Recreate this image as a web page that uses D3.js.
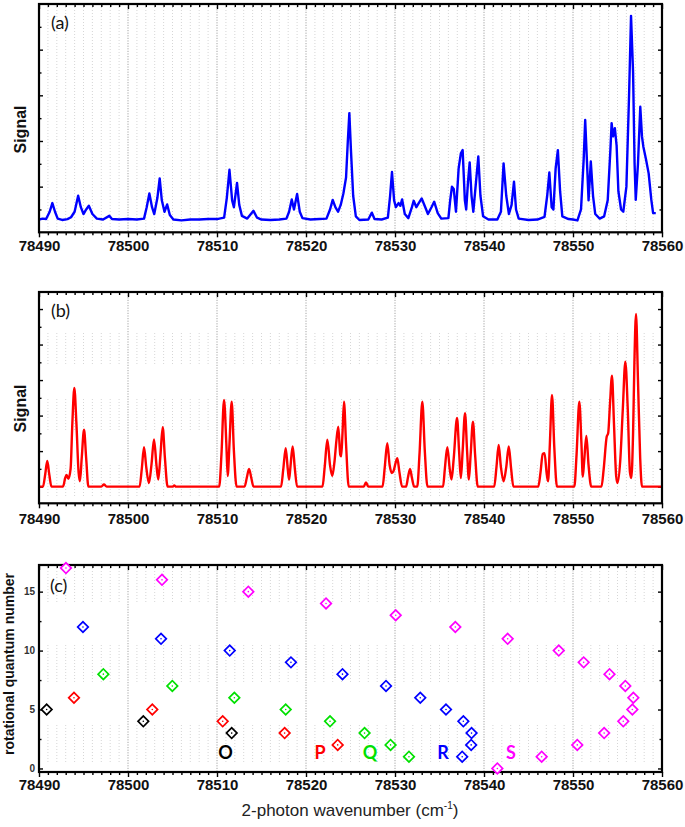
<!DOCTYPE html>
<html><head><meta charset="utf-8">
<script src="https://cdn.jsdelivr.net/npm/d3@7"></script>
<style>body{margin:0;background:#fff}svg{display:block}</style>
</head><body>
<script>
// ---------- DATA ----------
const xTicks = [78490,78500,78510,78520,78530,78540,78550,78560];
const xDomain = [78490, 78560];

// Panel (a): measured spectrum [wavenumber, signal]
const spectrumA = [
[78490.0,0.28],[78490.4,0.30],[78490.8,0.29],[78491.2,0.45],[78491.5,0.64],[78491.8,0.45],[78492.1,0.30],[78492.6,0.27],
[78493.2,0.29],[78493.6,0.33],[78494.0,0.45],[78494.4,0.80],[78494.7,0.55],[78495.0,0.40],[78495.3,0.50],[78495.6,0.58],
[78496.0,0.40],[78496.5,0.30],[78497.2,0.28],[78497.9,0.36],[78498.2,0.29],[78499.0,0.28],[78500.0,0.29],[78501.0,0.28],
[78501.8,0.30],[78502.1,0.55],[78502.4,0.85],[78502.7,0.55],[78502.95,0.40],[78503.3,0.75],[78503.56,1.18],[78503.8,0.70],
[78504.1,0.45],[78504.4,0.61],[78504.7,0.38],[78505.1,0.28],[78506.0,0.26],[78507.0,0.28],[78508.0,0.28],[78509.0,0.29],
[78510.0,0.29],[78510.8,0.32],[78511.1,0.75],[78511.4,1.37],[78511.7,0.70],[78511.9,0.55],[78512.25,1.08],[78512.5,0.60],
[78512.8,0.36],[78513.4,0.30],[78514.1,0.47],[78514.5,0.32],[78515.0,0.28],[78516.0,0.27],[78517.0,0.28],[78517.8,0.30],
[78518.1,0.45],[78518.4,0.72],[78518.65,0.50],[78519.0,0.84],[78519.3,0.45],[78519.6,0.31],[78520.5,0.28],[78521.5,0.29],
[78522.3,0.30],[78522.7,0.50],[78523.0,0.71],[78523.3,0.55],[78523.6,0.45],[78523.9,0.60],[78524.2,0.85],[78524.5,1.20],
[78524.7,2.00],[78524.87,2.61],[78525.05,1.80],[78525.3,0.80],[78525.6,0.35],[78526.0,0.27],[78527.0,0.28],[78527.4,0.43],
[78527.7,0.29],[78528.5,0.28],[78529.2,0.32],[78529.45,0.80],[78529.66,1.32],[78529.9,0.70],[78530.1,0.55],[78530.4,0.64],
[78530.6,0.58],[78530.8,0.72],[78531.1,0.40],[78531.5,0.31],[78531.9,0.55],[78532.1,0.69],[78532.4,0.55],[78532.7,0.65],
[78533.0,0.74],[78533.4,0.55],[78533.7,0.40],[78534.1,0.55],[78534.4,0.67],[78534.8,0.42],[78535.2,0.30],[78536.0,0.31],
[78536.2,0.70],[78536.4,1.00],[78536.6,0.95],[78536.85,0.45],[78537.15,1.40],[78537.4,1.73],[78537.6,1.80],[78537.85,0.70],
[78538.0,0.50],[78538.2,1.10],[78538.39,1.53],[78538.6,0.80],[78538.8,0.45],[78539.1,1.10],[78539.36,1.66],[78539.6,0.80],
[78539.9,0.35],[78540.5,0.28],[78541.5,0.28],[78541.9,0.45],[78542.2,1.51],[78542.5,0.80],[78542.8,0.40],[78543.1,0.60],
[78543.37,1.11],[78543.6,0.50],[78543.9,0.30],[78545.0,0.27],[78546.0,0.28],[78546.8,0.34],[78547.1,0.80],[78547.34,1.31],
[78547.6,0.55],[78547.8,0.50],[78548.05,1.40],[78548.3,1.80],[78548.55,0.90],[78548.8,0.35],[78549.5,0.29],[78550.0,0.28],
[78550.5,0.26],[78550.9,0.50],[78551.2,1.60],[78551.37,2.46],[78551.6,1.40],[78551.75,0.70],[78552.0,1.55],[78552.25,0.80],
[78552.5,0.40],[78553.0,0.30],[78553.5,0.35],[78553.9,0.70],[78554.2,1.80],[78554.34,2.39],[78554.5,2.10],[78554.7,2.28],
[78554.9,1.90],[78555.1,0.90],[78555.4,0.50],[78555.65,0.45],[78556.0,1.00],[78556.3,3.00],[78556.52,4.74],[78556.75,3.50],
[78556.92,1.50],[78557.05,0.71],[78557.3,1.50],[78557.56,2.75],[78557.75,2.10],[78557.9,1.88],[78558.2,1.60],[78558.5,1.29],
[78558.8,0.71],[78559.0,0.42],[78559.3,0.42]
];

// Panel (b): simulated spectrum [wavenumber, signal]
const spectrumB = [
[78490.0,0],[78490.45,0],[78490.7,0.35],[78490.93,0.72],[78491.15,0.35],[78491.4,0],
[78492.7,0],[78492.95,0.25],[78493.1,0.33],[78493.3,0.22],[78493.55,0.5],[78493.75,1.8],[78493.97,2.78],[78494.2,1.8],[78494.45,0.4],[78494.6,0.15],[78494.8,0.8],[78495.06,1.6],[78495.3,0.8],[78495.55,0],
[78497.0,0],[78497.3,0.06],[78497.6,0],
[78501.3,0],[78501.55,0.5],[78501.8,1.11],[78502.05,0.55],[78502.35,0.1],[78502.65,0.65],[78502.92,1.33],[78503.2,0.6],[78503.4,0.2],[78503.65,0.9],[78503.9,1.67],[78504.15,0.8],[78504.45,0],
[78505.0,0],[78505.2,0.03],[78505.4,0],
[78510.25,0],[78510.5,0.9],[78510.79,2.44],[78511.05,1.2],[78511.2,0.3],[78511.4,1.2],[78511.65,2.39],[78511.9,1.0],[78512.2,0],
[78513.1,0],[78513.35,0.25],[78513.6,0.5],[78513.85,0.25],[78514.1,0],
[78517.2,0],[78517.45,0.5],[78517.72,1.08],[78517.95,0.5],[78518.1,0.2],[78518.25,0.55],[78518.5,1.13],[78518.75,0.5],[78519.0,0],
[78521.85,0],[78522.1,0.55],[78522.4,1.32],[78522.7,0.6],[78522.95,0.3],[78523.2,0.7],[78523.42,1.3],[78523.63,1.69],[78523.85,0.9],[78523.95,0.85],[78524.1,1.5],[78524.27,2.39],[78524.5,1.2],[78524.8,0],
[78526.5,0],[78526.74,0.12],[78527.0,0],
[78528.6,0],[78528.85,0.55],[78529.13,1.22],[78529.4,0.6],[78529.65,0.38],[78529.85,0.45],[78530.05,0.65],[78530.26,0.80],[78530.5,0.4],[78530.8,0],
[78531.25,0],[78531.45,0.25],[78531.69,0.5],[78531.9,0.25],[78532.15,0],
[78532.5,0],[78532.75,0.9],[78533.07,2.39],[78533.35,1.0],[78533.65,0],
[78535.4,0],[78535.6,0.5],[78535.88,1.11],[78536.15,0.5],[78536.35,0.2],[78536.6,0.8],[78536.97,1.93],[78537.2,1.0],[78537.4,0.24],[78537.6,1.0],[78537.87,2.07],[78538.1,1.0],[78538.3,0.2],[78538.5,0.9],[78538.76,1.83],[78539.0,0.9],[78539.3,0],
[78541.15,0],[78541.4,0.55],[78541.65,1.17],[78541.9,0.55],[78542.2,0.15],[78542.5,0.55],[78542.78,1.13],[78543.05,0.5],[78543.3,0],
[78546.1,0],[78546.35,0.4],[78546.6,0.92],[78546.8,0.94],[78547.05,0.35],[78547.2,0.15],[78547.4,1.2],[78547.64,2.58],[78547.9,1.1],[78548.2,0],
[78550.15,0],[78550.4,0.9],[78550.71,2.39],[78550.95,1.2],[78551.1,0.28],[78551.25,0.7],[78551.5,1.43],[78551.75,0.6],[78552.05,0],
[78553.2,0],[78553.45,0.5],[78553.79,1.41],[78553.95,1.5],[78554.15,2.3],[78554.38,3.12],[78554.6,1.8],[78554.85,0.3],[78555.0,0.1],[78555.3,0.7],[78555.6,2.2],[78555.88,3.52],[78556.15,2.2],[78556.4,0.4],[78556.55,0.24],[78556.75,1.5],[78556.9,3.5],[78557.08,4.86],[78557.3,3.0],[78557.55,0.8],[78557.75,0],
[78560.0,0]
];

// Panel (c): line assignments (wavenumber, rotational quantum number J)
const oWavenumber = [78490.86, 78501.72, 78511.65];
const oJ          = [5, 4, 3];
const pWavenumber = [78493.93, 78502.73, 78510.64, 78517.6, 78523.56];
const pJ          = [6, 5, 4, 3, 2];
const qWavenumber = [78497.23, 78504.98, 78511.95, 78517.72, 78522.7, 78526.58, 78529.5, 78531.57];
const qJ          = [8, 7, 6, 5, 4, 3, 2, 1];
const rWavenumber = [78494.94, 78503.71, 78511.43, 78518.31, 78524.1, 78528.99, 78532.84, 78535.73, 78537.68, 78538.6, 78538.56, 78537.55];
const rJ          = [12, 11, 10, 9, 8, 7, 6, 5, 4, 3, 2, 1];
const sWavenumber = [78493.03, 78503.82, 78513.52, 78522.25, 78530.08, 78536.78, 78542.66, 78548.4, 78551.2, 78554.1, 78555.88, 78556.78, 78556.67, 78555.65, 78553.5, 78550.48, 78546.48, 78541.5];
const sJ          = [17, 16, 15, 14, 13, 12, 11, 10, 9, 8, 7, 6, 5, 4, 3, 2, 1, 0];
const branchNames = ["O", "P", "Q", "R", "S"];
const branchColors = ["#000000", "#ff0000", "#00e000", "#0000ff", "#ff00ff"];
const branchLabelWn = [78510.95, 78521.57, 78527.19, 78535.39, 78543.03];
const branchLabelJ  = [1.4, 1.4, 1.4, 1.4, 1.4];

// ---------- LAYOUT ----------
const W = 685, H = 827;
const L = 39, R = 662;
const svg = d3.select("body").append("svg").attr("width", W).attr("height", H)
  .style("font-family", "'Liberation Sans', Arial, sans-serif");

const x = d3.scaleLinear().domain(xDomain).range([L, R]);
const minorX = d3.range(78491, 78560).filter(v => v % 10 !== 0);
const majorInner = xTicks.filter(v => v !== 78490 && v !== 78560);

function panel(id, top, bottom, yDomain, yMajor, yMinor, gridBand, labelOffset, showYLabels) {
  const y = d3.scaleLinear().domain(yDomain).range([bottom, top]);
  const g = svg.append("g");
  svg.append("clipPath").attr("id", "clip" + id).append("rect")
    .attr("x", L).attr("y", top).attr("width", R - L).attr("height", bottom - top);
  const mg = g.append("g");
  mg.selectAll("line").data(minorX).join("line")
    .attr("x1", d => x(d)).attr("x2", d => x(d))
    .attr("y1", top + gridBand.start).attr("y2", bottom)
    .attr("stroke", "#cccccc").attr("stroke-width", 0.8)
    .attr("stroke-dasharray", gridBand.dash);
  g.append("g").selectAll("line").data(majorInner).join("line")
    .attr("x1", d => x(d)).attr("x2", d => x(d))
    .attr("y1", top).attr("y2", bottom)
    .attr("stroke", "#9a9a9a").attr("stroke-width", 0.9)
    .attr("stroke-dasharray", "1.2,1.4");
  const axB = g.append("g").attr("transform", `translate(0,${bottom})`)
    .call(d3.axisBottom(x).tickValues(xTicks).tickSize(5).tickPadding(labelOffset).tickFormat(d3.format("d")));
  axB.select(".domain").remove();
  axB.selectAll("text").attr("font-size", 15).attr("font-weight", "bold").attr("fill", "#111");
  const axBm = g.append("g").attr("transform", `translate(0,${bottom})`)
    .call(d3.axisBottom(x).tickValues(minorX).tickSize(3).tickFormat(""));
  axBm.select(".domain").remove();
  const axT = g.append("g").attr("transform", `translate(0,${top})`)
    .call(d3.axisTop(x).tickValues(xTicks).tickSize(-5).tickFormat(""));
  axT.select(".domain").remove();
  const axTm = g.append("g").attr("transform", `translate(0,${top})`)
    .call(d3.axisTop(x).tickValues(minorX).tickSize(-3).tickFormat(""));
  axTm.select(".domain").remove();
  const axL = g.append("g").attr("transform", `translate(${L},0)`)
    .call(d3.axisLeft(y).tickValues(yMajor).tickSize(-4).tickPadding(4).tickFormat(showYLabels ? d3.format("d") : ""));
  axL.select(".domain").remove();
  axL.selectAll("text").attr("font-size", 10).attr("font-weight", "bold").attr("fill", "#333");
  const axLm = g.append("g").attr("transform", `translate(${L},0)`)
    .call(d3.axisLeft(y).tickValues(yMinor).tickSize(-2.5).tickFormat(""));
  axLm.select(".domain").remove();
  const axR = g.append("g").attr("transform", `translate(${R},0)`)
    .call(d3.axisRight(y).tickValues(yMajor).tickSize(-4).tickFormat(""));
  axR.select(".domain").remove();
  const axRm = g.append("g").attr("transform", `translate(${R},0)`)
    .call(d3.axisRight(y).tickValues(yMinor).tickSize(-2.5).tickFormat(""));
  axRm.select(".domain").remove();
  g.selectAll(".tick line").attr("stroke", "#000").attr("stroke-width", 1.4);
  return {g, y, top, bottom};
}

function frame(p) {
  p.g.append("rect").attr("x", L).attr("y", p.top).attr("width", R - L).attr("height", p.bottom - p.top)
    .attr("fill", "none").attr("stroke", "#000").attr("stroke-width", 2.2);
}

// ----- Panel (a)
const pa = panel("a", 4, 232.3, [0, 5], [1, 2, 3, 4], [0.5, 1.5, 2.5, 3.5, 4.5],
  {start: 0, dash: "1,2"}, 3, false);
pa.g.append("path").datum(spectrumA)
  .attr("clip-path", "url(#clipa)")
  .attr("d", d3.line().x(d => x(d[0])).y(d => pa.y(d[1])))
  .attr("fill", "none").attr("stroke", "#0000ff").attr("stroke-width", 2.4)
  .attr("stroke-linejoin", "round");
frame(pa);

// ----- Panel (b)
const pb = panel("b", 292, 503.3, [-0.47, 5.48], [0, 1, 2, 3, 4, 5], [0.5, 1.5, 2.5, 3.5, 4.5],
  {start: 41, dash: "1,2,1,2,1,2,1,2,1,2,1,2,1,2,1,2,1,2,1,2,1,35"}, 5, false);
pb.g.append("path").datum(spectrumB)
  .attr("clip-path", "url(#clipb)")
  .attr("d", d3.line().x(d => x(d[0])).y(d => pb.y(d[1])).curve(d3.curveMonotoneX))
  .attr("fill", "none").attr("stroke", "#ff0000").attr("stroke-width", 2.4)
  .attr("stroke-linejoin", "round");
frame(pb);

// ----- Panel (c)
const pc = panel("c", 565, 772, [-0.3, 17.26], [0, 5, 10, 15], [2.5, 7.5, 12.5],
  {start: 0, dash: "1,2,1,2,1,2,1,2,1,2,1,2,1,2,1,2,1,2,1,2,1,2,1,2,1,43"}, 2, true);
frame(pc);
const branches = [
  {wn: oWavenumber, J: oJ}, {wn: pWavenumber, J: pJ}, {wn: qWavenumber, J: qJ},
  {wn: rWavenumber, J: rJ}, {wn: sWavenumber, J: sJ}
];
const diamond = d3.symbol().type(d3.symbolSquare).size(56)();
branches.forEach((b, i) => {
  const pts = b.wn.map((w, k) => [w, b.J[k]]);
  const gg = pc.g.append("g");
  const sel = gg.selectAll("g").data(pts).join("g")
    .attr("transform", d => `translate(${x(d[0])},${pc.y(d[1])})`);
  sel.append("path").attr("d", diamond).attr("transform", "rotate(45)")
    .attr("fill", "#fff").attr("stroke", branchColors[i]).attr("stroke-width", 1.7);
  sel.append("circle").attr("r", 0.8).attr("fill", branchColors[i]);
  pc.g.append("text")
    .attr("x", x(branchLabelWn[i])).attr("y", pc.y(branchLabelJ[i]))
    .attr("text-anchor", "middle").attr("dominant-baseline", "central")
    .attr("font-family", "Lato, 'Open Sans', sans-serif").attr("font-weight", "bold")
    .attr("font-size", 18).attr("fill", branchColors[i]).text(branchNames[i]);
});

// ----- Panel letters
[["(a)", 51, 29], ["(b)", 51, 317], ["(c)", 50, 592]].forEach(([t, px, py]) => {
  svg.append("text").attr("x", px).attr("y", py).attr("font-family", "Lato, 'Open Sans', sans-serif")
    .attr("font-size", 18).attr("fill", "#111").text(t);
});

// ----- Axis titles
[["Signal", 20, 129.5, 16], ["Signal", 20, 408.5, 16], ["rotational quantum number", 9, 664, 14]]
.forEach(([t, px, py, fs]) => {
  svg.append("text").attr("transform", `translate(${px},${py}) rotate(-90)`)
    .attr("text-anchor", "middle").attr("dominant-baseline", "central")
    .attr("font-size", fs).attr("font-weight", "bold").attr("fill", "#111").text(t);
});
const xt = svg.append("text").attr("x", 350).attr("y", 816).attr("text-anchor", "middle")
  .attr("font-size", 17).attr("fill", "#222");
xt.append("tspan").text("2-photon wavenumber (cm");
xt.append("tspan").attr("font-size", 10).attr("dy", -7).text("-1");
xt.append("tspan").attr("dy", 7).text(")");
</script>
</body></html>
